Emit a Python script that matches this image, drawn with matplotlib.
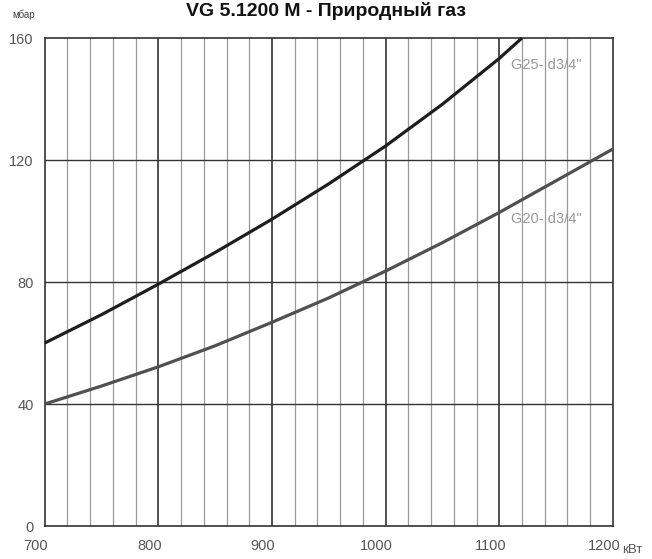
import matplotlib
matplotlib.use("Agg")
import matplotlib.pyplot as plt
import matplotlib.transforms as mtransforms

# Data
g20_x = [700, 750, 800, 850, 900, 950, 1000, 1050, 1100, 1150, 1200]
g20_y = [40, 45.9, 52.2, 59.1, 66.8, 74.8, 83.6, 92.9, 102.8, 113.2, 123.6]
g25_x = [700, 750, 800, 850, 900, 950, 1000, 1050, 1100, 1120]
g25_y = [60, 69.3, 79.3, 89.7, 100.6, 112.2, 124.6, 138.3, 153.3, 160]
x_ticks = [700, 800, 900, 1000, 1100, 1200]
y_ticks = [0, 40, 80, 120, 160]
minor_x = list(range(700, 1201, 20))
title = "VG 5.1200 M - Природный газ"
label_g25 = 'G25- d3/4"'
label_g20 = 'G20- d3/4"'

plt.rcParams['font.family'] = ['Liberation Sans', 'DejaVu Sans']

fig = plt.figure(figsize=(6.52, 5.59), dpi=100)
ax = fig.add_axes([0.0686, 0.059, 0.8714, 0.873])
ax.set_xlim(700, 1200)
ax.set_ylim(0, 160)

# grid
for xv in minor_x:
    if xv in (700, 1200):
        continue
    major = (xv % 100 == 0)
    ax.axvline(xv, color='#333333' if major else '#9a9a9a',
               lw=1.2 if major else 0.9, zorder=1)
for yv in [40, 80, 120]:
    ax.axhline(yv, color='#333333', lw=1.0, zorder=1)

for s in ax.spines.values():
    s.set_color('#333333')
    s.set_linewidth(1.2)

ax.plot(g25_x, g25_y, color='#1e1e1e', lw=2.3, solid_capstyle='butt', zorder=3, clip_on=False)
ax.plot(g20_x, g20_y, color='#505050', lw=2.3, solid_capstyle='butt', zorder=3, clip_on=False)

ax.text(1110, 151, label_g25, color='#999999', fontsize=10.5, va='center', ha='left')
ax.text(1110, 100.5, label_g20, color='#999999', fontsize=10.5, va='center', ha='left')

ax.set_xticks(x_ticks)
ax.set_xticklabels([str(v) for v in x_ticks])
ax.set_yticks(y_ticks)
ax.set_yticklabels([str(v) for v in y_ticks])
ax.tick_params(axis='both', length=0, labelsize=10.5, labelcolor='#555555')
ax.tick_params(axis='x', pad=9)
ax.tick_params(axis='y', pad=8)
offset = mtransforms.ScaledTranslation(-9 / 100, 0, fig.dpi_scale_trans)
for lab in ax.get_xticklabels():
    lab.set_transform(lab.get_transform() + offset)

fig.text(622 / 652, 1 - 550 / 559, "кВт", fontsize=9.5, color='#555555', ha='left', va='center')
fig.text(12 / 652, 1 - 15 / 559, "мбар", fontsize=7, color='#444444', ha='left', va='center')
fig.text(0.5, 1 - 16 / 559, title, fontsize=14, fontweight='bold', color='#111111',
         ha='center', va='baseline')

fig.savefig("out.png", dpi=100, facecolor='white')
